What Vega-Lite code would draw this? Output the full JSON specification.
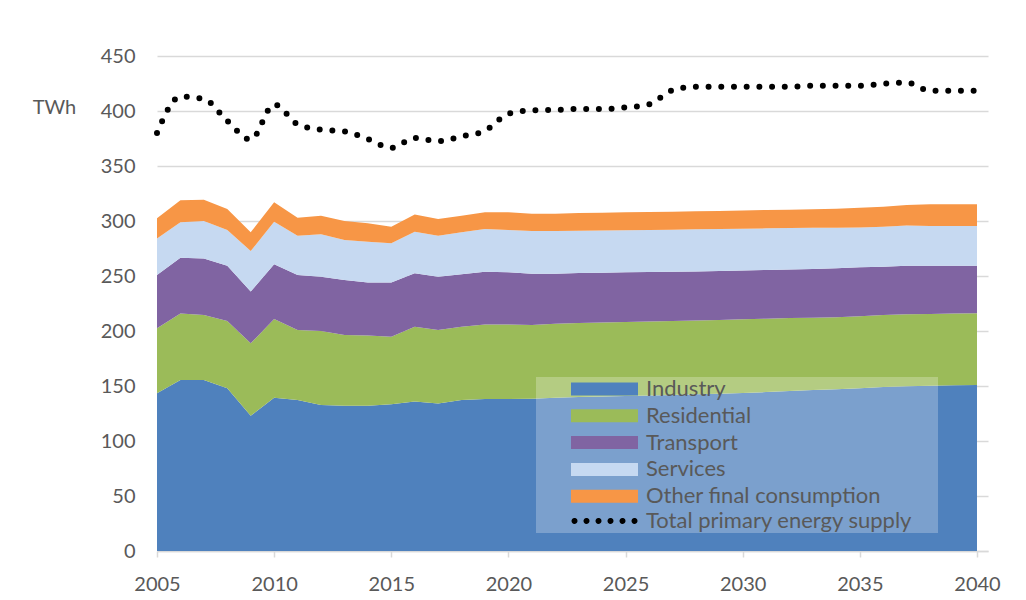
{
  "$schema": "https://vega.github.io/schema/vega-lite/v6.json",
  "width": 831,
  "height": 495,
  "autosize": {"type": "none"},
  "padding": {"left": 157, "top": 56, "right": 38, "bottom": 49},
  "background": "white",
  "config": {
    "view": {"stroke": null},
    "font": "Lato",
    "axis": {"labelFont": "Lato", "labelFontSize": 20, "labelColor": "#595959", "titleFont": "Lato"},
    "legend": {"labelFont": "Lato", "titleFont": "Lato"}
  },
  "data": {
    "values": [
      {"year": 2005, "Industry": 143.3, "Residential": 59.1, "Transport": 48.5, "Services": 33.3, "Other final consumption": 18.2, "Total primary energy supply": 380},
      {"year": 2006, "Industry": 155.5, "Residential": 60.5, "Transport": 50.7, "Services": 32.1, "Other final consumption": 20.0, "Total primary energy supply": 413},
      {"year": 2007, "Industry": 155.5, "Residential": 59.0, "Transport": 51.5, "Services": 34.0, "Other final consumption": 19.4, "Total primary energy supply": 411},
      {"year": 2008, "Industry": 147.9, "Residential": 61.1, "Transport": 50.4, "Services": 32.4, "Other final consumption": 19.1, "Total primary energy supply": 391},
      {"year": 2009, "Industry": 123.0, "Residential": 65.8, "Transport": 47.0, "Services": 36.9, "Other final consumption": 17.0, "Total primary energy supply": 374},
      {"year": 2010, "Industry": 139.4, "Residential": 71.5, "Transport": 49.7, "Services": 38.8, "Other final consumption": 17.6, "Total primary energy supply": 406},
      {"year": 2011, "Industry": 137.3, "Residential": 63.6, "Transport": 50.0, "Services": 35.8, "Other final consumption": 16.3, "Total primary energy supply": 388},
      {"year": 2012, "Industry": 132.7, "Residential": 67.3, "Transport": 49.4, "Services": 38.5, "Other final consumption": 16.9, "Total primary energy supply": 383},
      {"year": 2013, "Industry": 132.1, "Residential": 64.3, "Transport": 50.0, "Services": 36.3, "Other final consumption": 17.3, "Total primary energy supply": 381.5},
      {"year": 2014, "Industry": 132.0, "Residential": 63.8, "Transport": 48.4, "Services": 37.0, "Other final consumption": 16.7, "Total primary energy supply": 374.5},
      {"year": 2015, "Industry": 133.3, "Residential": 61.5, "Transport": 49.4, "Services": 35.5, "Other final consumption": 15.1, "Total primary energy supply": 366.5},
      {"year": 2016, "Industry": 135.8, "Residential": 68.1, "Transport": 48.5, "Services": 37.9, "Other final consumption": 15.7, "Total primary energy supply": 375.5},
      {"year": 2017, "Industry": 134.2, "Residential": 66.7, "Transport": 48.5, "Services": 37.3, "Other final consumption": 15.1, "Total primary energy supply": 372.5},
      {"year": 2018, "Industry": 137.3, "Residential": 66.6, "Transport": 47.6, "Services": 38.2, "Other final consumption": 15.1, "Total primary energy supply": 377},
      {"year": 2019, "Industry": 138.2, "Residential": 67.8, "Transport": 47.9, "Services": 38.8, "Other final consumption": 15.2, "Total primary energy supply": 382},
      {"year": 2020, "Industry": 138.2, "Residential": 67.8, "Transport": 47.3, "Services": 38.5, "Other final consumption": 16.1, "Total primary energy supply": 397.5},
      {"year": 2021, "Industry": 138.5, "Residential": 67.0, "Transport": 46.6, "Services": 38.8, "Other final consumption": 15.8, "Total primary energy supply": 400.5},
      {"year": 2022, "Industry": 139.4, "Residential": 67.3, "Transport": 45.4, "Services": 38.8, "Other final consumption": 15.8, "Total primary energy supply": 401},
      {"year": 2023, "Industry": 140.0, "Residential": 67.3, "Transport": 45.4, "Services": 38.5, "Other final consumption": 16.1, "Total primary energy supply": 401.8},
      {"year": 2024, "Industry": 140.5, "Residential": 67.3, "Transport": 45.2, "Services": 38.4, "Other final consumption": 16.2, "Total primary energy supply": 401.8},
      {"year": 2025, "Industry": 140.9, "Residential": 67.3, "Transport": 45.1, "Services": 38.2, "Other final consumption": 16.4, "Total primary energy supply": 403.2},
      {"year": 2026, "Industry": 141.4, "Residential": 67.2, "Transport": 45.0, "Services": 38.2, "Other final consumption": 16.4, "Total primary energy supply": 406},
      {"year": 2027, "Industry": 141.8, "Residential": 67.2, "Transport": 44.9, "Services": 38.2, "Other final consumption": 16.4, "Total primary energy supply": 418.8},
      {"year": 2028, "Industry": 142.4, "Residential": 67.1, "Transport": 44.7, "Services": 38.2, "Other final consumption": 16.4, "Total primary energy supply": 422},
      {"year": 2029, "Industry": 143.0, "Residential": 67.0, "Transport": 44.5, "Services": 38.2, "Other final consumption": 16.4, "Total primary energy supply": 422},
      {"year": 2030, "Industry": 143.7, "Residential": 66.9, "Transport": 44.4, "Services": 38.0, "Other final consumption": 16.5, "Total primary energy supply": 422},
      {"year": 2031, "Industry": 144.5, "Residential": 66.7, "Transport": 44.3, "Services": 37.8, "Other final consumption": 16.7, "Total primary energy supply": 422},
      {"year": 2032, "Industry": 145.5, "Residential": 66.3, "Transport": 44.0, "Services": 37.8, "Other final consumption": 16.7, "Total primary energy supply": 422},
      {"year": 2033, "Industry": 146.4, "Residential": 65.7, "Transport": 44.3, "Services": 37.5, "Other final consumption": 16.7, "Total primary energy supply": 423},
      {"year": 2034, "Industry": 147.0, "Residential": 65.4, "Transport": 44.6, "Services": 36.9, "Other final consumption": 17.3, "Total primary energy supply": 423},
      {"year": 2035, "Industry": 147.9, "Residential": 65.4, "Transport": 44.6, "Services": 36.3, "Other final consumption": 17.9, "Total primary energy supply": 423},
      {"year": 2036, "Industry": 149.0, "Residential": 65.5, "Transport": 44.0, "Services": 36.3, "Other final consumption": 18.2, "Total primary energy supply": 424.8},
      {"year": 2037, "Industry": 149.7, "Residential": 65.5, "Transport": 44.2, "Services": 36.4, "Other final consumption": 18.7, "Total primary energy supply": 425.8},
      {"year": 2038, "Industry": 150.3, "Residential": 65.2, "Transport": 43.9, "Services": 36.1, "Other final consumption": 19.7, "Total primary energy supply": 418.5},
      {"year": 2039, "Industry": 150.6, "Residential": 65.2, "Transport": 43.6, "Services": 36.1, "Other final consumption": 19.7, "Total primary energy supply": 418.5},
      {"year": 2040, "Industry": 151.0, "Residential": 65.1, "Transport": 43.3, "Services": 36.1, "Other final consumption": 19.7, "Total primary energy supply": 418.5}
    ]
  },
  "encoding": {
    "x": {
      "field": "year",
      "type": "quantitative",
      "scale": {"domain": [2005, 2040.47], "nice": false, "zero": false},
      "axis": {
        "values": [2005, 2010, 2015, 2020, 2025, 2030, 2035, 2040],
        "format": "d",
        "title": null,
        "grid": false,
        "domainColor": "#d9d9d9",
        "domainWidth": 1.5,
        "tickColor": "#d9d9d9",
        "tickWidth": 1.5,
        "tickSize": 6,
        "labelPadding": 17,
        "labelFlush": false,
        "labelOverlap": false
      }
    }
  },
  "layer": [
    {
      "transform": [
        {"fold": ["Industry", "Residential", "Transport", "Services", "Other final consumption"], "as": ["sector", "value"]},
        {"calculate": "indexof(['Industry','Residential','Transport','Services','Other final consumption'], datum.sector)", "as": "k"}
      ],
      "mark": {"type": "area", "opacity": 1},
      "encoding": {
        "y": {
          "field": "value",
          "type": "quantitative",
          "stack": "zero",
          "scale": {"domain": [0, 450], "nice": false},
          "axis": {
            "values": [0, 50, 100, 150, 200, 250, 300, 350, 400, 450],
            "title": "TWh",
            "titleAngle": 0,
            "titleX": -103,
            "titleY": 51,
            "titleAlign": "center",
            "titleBaseline": "middle",
            "titleFontSize": 20,
            "titleFontWeight": "normal",
            "titleColor": "#595959",
            "domain": false,
            "ticks": false,
            "tickSize": 0,
            "labelPadding": 22,
            "gridColor": "#d9d9d9",
            "gridWidth": 1.5
          }
        },
        "order": {"field": "k", "type": "quantitative", "sort": "ascending"},
        "fill": {
          "field": "sector",
          "type": "nominal",
          "scale": {
            "domain": ["Industry", "Residential", "Transport", "Services", "Other final consumption"],
            "range": ["#4F81BD", "#9BBB59", "#8064A2", "#C6D9F1", "#F79646"]
          },
          "legend": {
            "orient": "none",
            "legendX": 379,
            "legendY": 321,
            "title": ".",
            "titleOrient": "right",
            "titleColor": "rgba(0,0,0,0)",
            "titleFontSize": 20,
            "titlePadding": 51,
            "padding": 1,
            "fillColor": "rgba(255,255,255,0.25)",
            "symbolType": "M-5.154,-1H5.154V1H-5.154Z",
            "symbolSize": 169,
            "symbolStrokeWidth": 3,
            "symbolOffset": 56.5,
            "labelOffset": 30.5,
            "labelFontSize": 22,
            "labelColor": "#595959",
            "labelLimit": 500,
            "rowPadding": 4.8
          }
        }
      }
    },
    {
      "mark": {"type": "line", "strokeCap": "round", "interpolate": "monotone"},
      "encoding": {
        "y": {"field": "Total primary energy supply", "type": "quantitative"},
        "strokeDash": {"value": [0, 12.7]},
        "strokeWidth": {"value": 6},
        "stroke": {
          "datum": "Total primary energy supply",
          "type": "nominal",
          "scale": {"domain": ["Total primary energy supply"], "range": ["#000000"]},
          "legend": {
            "orient": "none",
            "legendX": 379,
            "legendY": 453,
            "title": ".",
            "titleOrient": "right",
            "titleColor": "rgba(0,0,0,0)",
            "titleFontSize": 20,
            "titlePadding": 19,
            "padding": 1,
            "fillColor": "rgba(255,255,255,0.25)",
            "symbolType": "M-4.845,0a0.23,0.23 0 1,0 0.46,0a0.23,0.23 0 1,0 -0.46,0M-2.999,0a0.23,0.23 0 1,0 0.46,0a0.23,0.23 0 1,0 -0.46,0M-1.153,0a0.23,0.23 0 1,0 0.46,0a0.23,0.23 0 1,0 -0.46,0M0.693,0a0.23,0.23 0 1,0 0.46,0a0.23,0.23 0 1,0 -0.46,0M2.539,0a0.23,0.23 0 1,0 0.46,0a0.23,0.23 0 1,0 -0.46,0M4.385,0a0.23,0.23 0 1,0 0.46,0a0.23,0.23 0 1,0 -0.46,0",
            "symbolSize": 169,
            "symbolStrokeWidth": 3,
            "symbolStrokeColor": "#000000",
            "symbolFillColor": "#000000",
            "symbolDash": [1, 0],
            "symbolOffset": 56.5,
            "labelOffset": 30.5,
            "labelFontSize": 22,
            "labelColor": "#595959",
            "labelLimit": 500
          }
        }
      }
    }
  ]
}
